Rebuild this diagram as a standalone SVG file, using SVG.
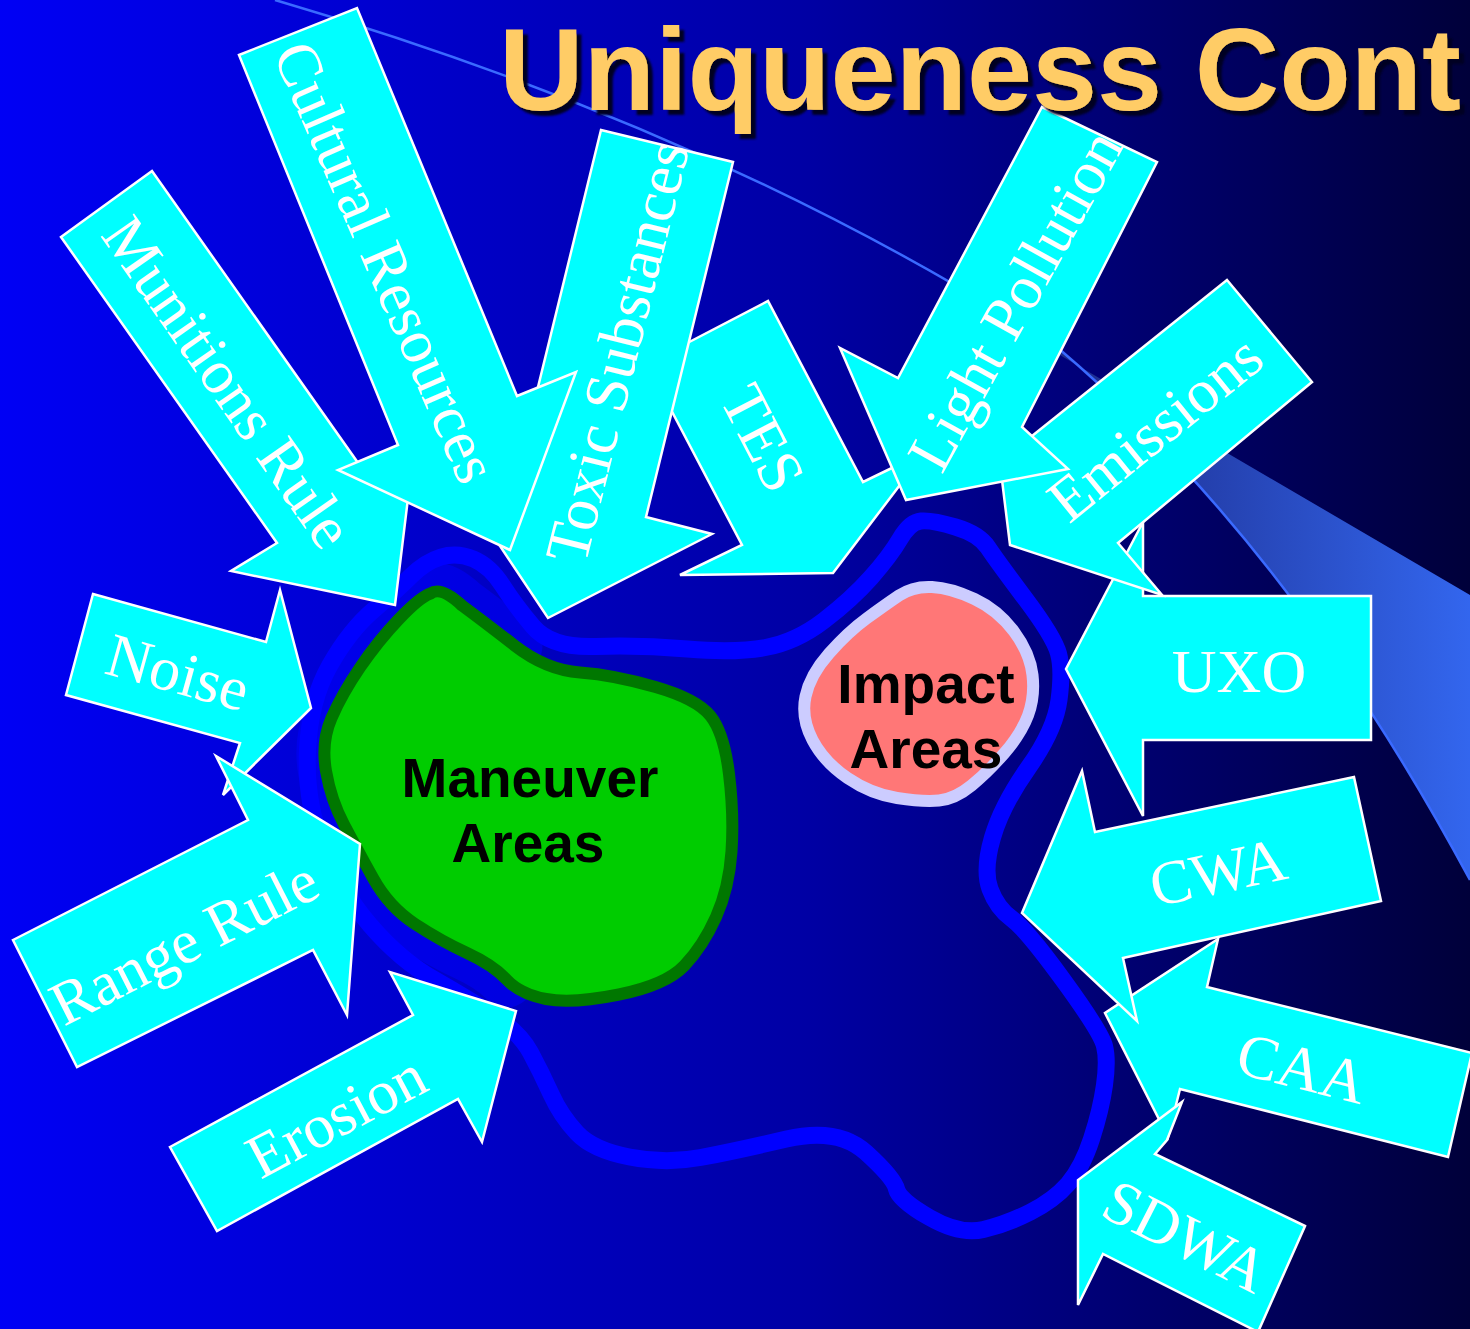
<svg xmlns="http://www.w3.org/2000/svg" width="1470" height="1329" viewBox="0 0 1470 1329">
  <defs>
    <linearGradient id="bg" x1="0" y1="0" x2="1" y2="0">
      <stop offset="0" stop-color="#0000F5"/>
      <stop offset="0.55" stop-color="#0000A4"/>
      <stop offset="1" stop-color="#00003A"/>
    </linearGradient>
    <linearGradient id="swoosh" gradientUnits="userSpaceOnUse" x1="1050" y1="0" x2="1470" y2="0">
      <stop offset="0" stop-color="#1C2A88"/>
      <stop offset="1" stop-color="#3366EE"/>
    </linearGradient>
    <filter id="shadow" x="-5%" y="-20%" width="110%" height="140%">
      <feDropShadow dx="5" dy="5" stdDeviation="1" flood-color="#000022" flood-opacity="1"/>
    </filter>
    <style>
      .arrow { fill: #00FFFF; stroke: #FFFFFF; stroke-width: 2.5; stroke-linejoin: miter; }
      .lbl { font-family: "Liberation Serif", "Times New Roman", serif; font-size: 62px; fill: #FFFFFF; text-anchor: middle; }
      .area { font-family: "Liberation Sans", Arial, sans-serif; font-weight: bold; font-size: 55px; fill: #000000; text-anchor: middle; }
      .title { font-family: "Liberation Sans", Arial, sans-serif; font-weight: bold; font-size: 117px; fill: #FFCC66; }
    </style>
  </defs>

  <!-- background -->
  <rect x="0" y="0" width="1470" height="1329" fill="url(#bg)"/>
  <path d="M 1053 351 L 1470 595 L 1470 880 Q 1290 545 1058 348 Z" fill="url(#swoosh)"/>
  <path d="M 275 0 Q 720 130 1058 348 Q 1290 545 1470 880" fill="none" stroke="#3A6AFF" stroke-width="2.5"/>

  <!-- areas -->
  <g id="boundary">
    <path d="M 506.5 979.5 Q 493 965 467 953 Q 441 941 415 924 Q 389 907 373 878 Q 357 849 344 824.5 Q 331 800 326 771 Q 321 742 331.5 718 Q 342 694 360 667.5 Q 378 641 399 619 Q 420 597 430.5 593.5 Q 441 586 462 605.5 Q 483 621 514.5 645.5" fill="none" stroke="#0000FF" stroke-opacity="0.5" stroke-width="56" stroke-linecap="round" stroke-linejoin="round"/>
    <path d="M 411 576 Q 425 562 441 557 Q 457 552 473.5 559 Q 490 566 502.5 585.5 Q 515 605 533 626.5 Q 551 648 595.5 646.5 Q 640 645 687.5 649 Q 735 653 765.5 647.5 Q 796 642 824 620.5 Q 852 599 871 577.5 Q 890 556 900 539 Q 910 522 921 521 Q 932 520 955.5 527 Q 979 534 988 547.5 Q 997 561 1025.5 599 Q 1054 637 1058.5 653.5 Q 1063 670 1059 700 Q 1055 730 1028.5 767.5 Q 1002 805 992.5 837.5 Q 983 870 990 889 Q 997 908 1011.5 918.5 Q 1026 929 1063.5 980.5 Q 1101 1032 1104.5 1046 Q 1108 1060 1104.5 1085 Q 1101 1110 1091.5 1139 Q 1082 1168 1068 1184 Q 1054 1200 1030.5 1212 Q 1007 1224 983.5 1229.5 Q 960 1235 929.5 1217.5 Q 899 1200 896.5 1189 Q 894 1178 866 1152.5 Q 838 1127 786.5 1139 Q 735 1151 700.5 1157.5 Q 666 1164 629.5 1157 Q 593 1150 577 1133 Q 561 1116 551 1094 Q 541 1072 530.5 1052.5 Q 520 1033 495 1016.5 Q 470 1000 435 980 Q 400 960 370 925 Q 340 890 322.5 845 Q 305 800 307.5 750 Q 310 700 330 665 Q 350 630 373.5 610 Q 397 590 411 576 Z" fill="none" stroke="#0000FF" stroke-width="17" stroke-linejoin="round"/>
  </g>

  <g id="maneuver">
    <path d="M 462 605.5 Q 483 621 514.5 645.5 Q 546 670 580 672.5 Q 614 675 655.5 687 Q 697 699 710.5 716 Q 724 733 729 774 Q 734 815 731.5 851.5 Q 729 888 716 917 Q 703 946 684.5 965.5 Q 666 985 619 994.5 Q 572 1004 546 999 Q 520 994 506.5 979.5 Q 493 965 467 953 Q 441 941 415 924 Q 389 907 373 878 Q 357 849 344 824.5 Q 331 800 326 771 Q 321 742 331.5 718 Q 342 694 360 667.5 Q 378 641 399 619 Q 420 597 430.5 593.5 Q 441 586 462 605.5 Z" fill="#00CC00" stroke="#007700" stroke-width="12" stroke-linejoin="round"/>
    <text class="area" x="530" y="797">Maneuver</text>
    <text class="area" x="528" y="862">Areas</text>
  </g>

  <g id="impact">
    <path d="M 932 587 Q 951 588 974.5 599 Q 998 610 1014 631.5 Q 1030 653 1032.5 675 Q 1035 697 1028 715.5 Q 1021 734 1004.5 753 Q 988 772 971.5 785.5 Q 955 799 939 800.5 Q 923 802 897 798 Q 871 794 847.5 778 Q 824 762 812.5 740 Q 801 718 805.5 696.5 Q 810 675 829 653.5 Q 848 632 866.5 618.5 Q 885 605 899 595.5 Q 913 586 932 587 Z" fill="#FF7777" stroke="#CCCCFF" stroke-width="12" stroke-linejoin="round"/>
    <text class="area" x="926" y="703">Impact</text>
    <text class="area" x="926" y="768">Areas</text>
  </g>

  <!-- arrows -->
  <g id="noise">
    <polygon class="arrow" points="93,594 266,642 280,590 311,708 223,795 240,743 66,695"/>
    <text class="lbl" transform="translate(178,672) rotate(15.5)" x="0" y="21">Noise</text>
  </g>
  <g id="range-rule">
    <polygon class="arrow" points="13,940 248,820 216,756 360,844 347,1015 313,950 77,1067"/>
    <text class="lbl" transform="translate(184,942) rotate(-27)" x="0" y="21">Range Rule</text>
  </g>
  <g id="erosion">
    <polygon class="arrow" points="170,1147 413,1015 390,972 516,1011 482,1142 458,1099 217,1231"/>
    <text class="lbl" transform="translate(336,1116) rotate(-28)" x="0" y="21">Erosion</text>
  </g>
  <g id="tes">
    <polygon class="arrow" points="647,364 768,301 863,482 925,452 833,573 680,575 742,545"/>
    <text class="lbl" transform="translate(763,438) rotate(62.5)" x="0" y="21">TES</text>
  </g>
  <g id="toxic-substances">
    <polygon class="arrow" points="601,130 733,162 646,517 712,534 548,618 448,468 514,485"/>
    <text class="lbl" transform="translate(617,352) rotate(-76)" x="0" y="21">Toxic Substances</text>
  </g>
  <g id="munitions-rule">
    <polygon class="arrow" points="61,237 152,171 368,477 414,449 395,605 231,571 277,543"/>
    <text class="lbl" transform="translate(228,382) rotate(55)" x="0" y="21">Munitions Rule</text>
  </g>
  <g id="cultural-resources">
    <polygon class="arrow" points="239,55 357,8 517,396 576,372 510,550 338,470 398,445"/>
    <text class="lbl" transform="translate(386,262) rotate(66.5)" x="0" y="21">Cultural Resources</text>
  </g>
  <g id="uxo">
    <polygon class="arrow" points="1371,596 1371,740 1143,740 1143,816 1066,669 1143,522 1143,596"/>
    <text class="lbl" x="1239" y="692">UXO</text>
  </g>
  <g id="emissions">
    <polygon class="arrow" points="1227,280 1312,382 1118,543 1162,595 1010,545 1002,480 1010,437 1032,436"/>
    <text class="lbl" transform="translate(1155,428) rotate(-39)" x="0" y="21">Emissions</text>
  </g>
  <g id="light-pollution">
    <polygon class="arrow" points="1042,107 1157,162 1022,427 1068,469 906,500 840,348 898,378"/>
    <text class="lbl" transform="translate(1015,300) rotate(-61)" x="0" y="21">Light Pollution</text>
  </g>
  <g id="caa">
    <polygon class="arrow" points="1218,939 1207,987 1472,1053 1448,1157 1180,1089 1168,1137 1105,1013"/>
    <text class="lbl" transform="translate(1302,1068) rotate(14)" x="0" y="21">CAA</text>
  </g>
  <g id="cwa">
    <polygon class="arrow" points="1354,777 1381,901 1123,958 1137,1021 1022,913 1082,771 1095,832"/>
    <text class="lbl" transform="translate(1218,872) rotate(-12)" x="0" y="21">CWA</text>
  </g>
  <g id="sdwa">
    <polygon class="arrow" points="1305,1226 1155,1154 1167,1140 1182,1102 1078,1180 1078,1305 1103,1254 1258,1332"/>
    <text class="lbl" transform="translate(1186,1236) rotate(27)" x="0" y="21">SDWA</text>
  </g>

  <!-- title -->
  <g id="title">
    <text class="title" x="499" y="110" filter="url(#shadow)">Uniqueness Cont</text>
  </g>
</svg>
